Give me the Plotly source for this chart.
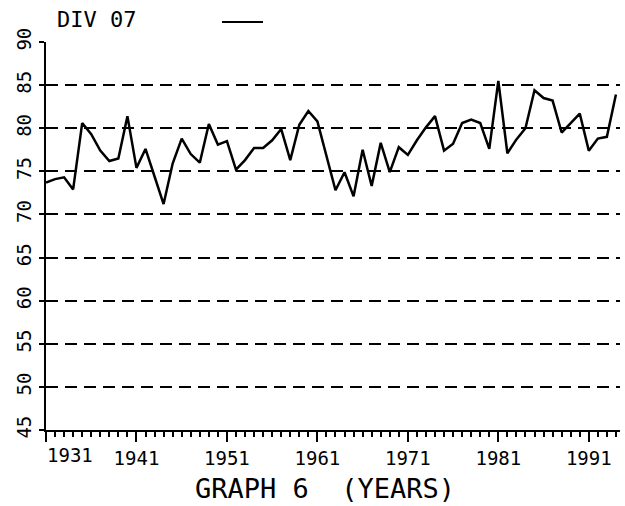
import plotly.graph_objects as go

years = list(range(1931, 1995))
temps = [73.7, 74.1, 74.3, 72.9, 80.6, 79.3, 77.4, 76.2, 76.5, 81.4,
         75.4, 77.6, 74.4, 71.2, 75.9, 78.8, 77.0, 76.0, 80.5, 78.1,
         78.5, 75.2, 76.3, 77.7, 77.7, 78.6, 79.9, 76.3, 80.4, 82.0,
         80.8, 76.8, 72.8, 74.9, 72.1, 77.5, 73.3, 78.3, 74.9, 77.8,
         76.9, 78.6, 80.1, 81.4, 77.4, 78.2, 80.6, 81.0, 80.6, 77.6,
         85.5, 77.1, 78.7, 80.0, 84.4, 83.5, 83.2, 79.5, 80.6, 81.7,
         77.4, 78.8, 79.0, 83.9]

x_ticks = [1931, 1941, 1951, 1961, 1971, 1981, 1991]
x_ticktext = ["", "1941", "1951", "1961", "1971", "1981", "1991"]
y_ticks = [45, 50, 55, 60, 65, 70, 75, 80, 85, 90]

FONT = "DejaVu Sans Mono"

fig = go.Figure()
fig.add_trace(go.Scatter(x=years, y=temps, mode="lines",
                         line=dict(color="black", width=2.5),
                         showlegend=False, cliponaxis=False))

fig.update_layout(
    width=625, height=506,
    margin=dict(l=46, r=5, t=42, b=76, autoexpand=False),
    paper_bgcolor="white", plot_bgcolor="white",
    font=dict(family=FONT, color="black", size=19),
    xaxis=dict(range=[1931, 1994.45], showline=True, linecolor="black", linewidth=2,
               showgrid=False, zeroline=False, automargin=False,
               tickmode="array", tickvals=x_ticks, ticktext=x_ticktext,
               ticks="outside", ticklen=10, tickwidth=2, tickcolor="black",
               minor=dict(dtick=1, tick0=1931, ticks="outside", ticklen=5,
                          tickwidth=1.5, tickcolor="black", showgrid=False),
               tickfont=dict(size=19)),
    yaxis=dict(range=[45, 90], showline=True, linecolor="black", linewidth=2,
               zeroline=False, automargin=False, tickmode="array", tickvals=y_ticks,
               ticks="outside", ticklen=5, tickwidth=2, tickcolor="black",
               tickangle=-90, tickfont=dict(size=19),
               showgrid=True, gridcolor="black", gridwidth=2.2,
               griddash="12px,7px"),
    annotations=[
        dict(text="1931", x=1933.7, xref="x", y=-0.065, yref="paper",
             showarrow=False, yanchor="middle", font=dict(size=19)),
        dict(text="DIV 07", x=(55 - 46) / 574, xref="paper", y=1.0, yref="paper",
             showarrow=False, xanchor="left", yanchor="bottom", yshift=8,
             font=dict(size=22)),
        dict(text="GRAPH 6  (YEARS)", x=0.486, xref="paper", y=-0.15, yref="paper",
             showarrow=False, yanchor="middle", font=dict(size=27)),
    ],
)
fig.add_shape(type="line", xref="paper", yref="paper",
              x0=(222 - 46) / 574, x1=(263 - 46) / 574,
              y0=(430 - 22) / 388, y1=(430 - 22) / 388,
              line=dict(color="black", width=2))

fig.write_html("out.html", config={"displayModeBar": False},
               post_script="document.body.style.margin='0';document.body.style.padding='0';")
